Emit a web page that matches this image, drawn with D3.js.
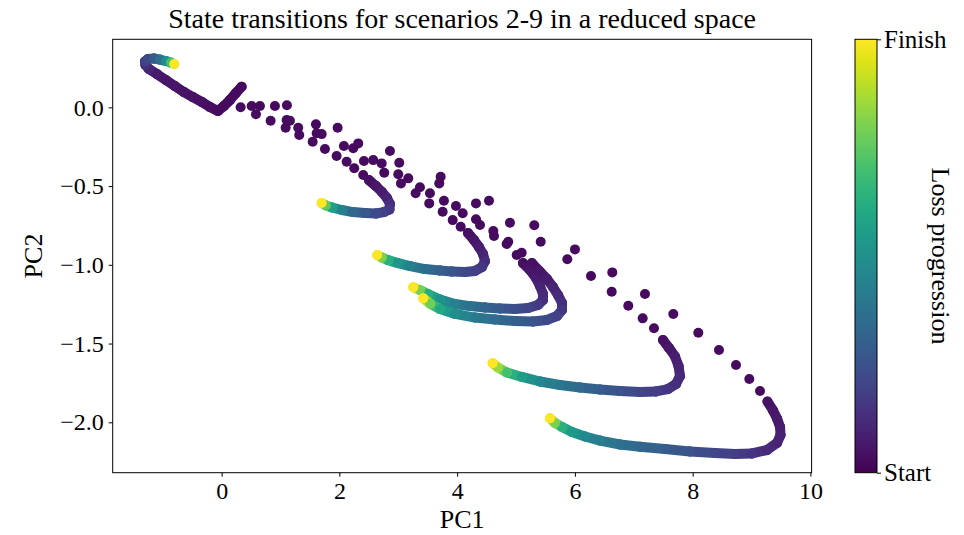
<!DOCTYPE html>
<html>
<head>
<meta charset="utf-8">
<script src="https://cdn.jsdelivr.net/npm/d3@7"></script>
<style>
  body { margin: 0; background: #fff; }
  svg text { font-family: "Liberation Serif", "DejaVu Serif", serif; fill: #000; }
</style>
</head>
<body>
<div id="container"></div>
<script>
/* DATA */
// early, fast steps: [PC1, PC2] -- all drawn with the start colour
const startProgress = 0.03;

// late, slow steps: [PC1, PC2, progress 0..1]
const pathU = [
  [0.34, 0.131, 0.03], [0.243, 0.091, 0.03], [0.141, 0.046, 0.03], [0.039, 0.008, 0.03],
  [-0.063, -0.023, 0.03], [-0.199, 0.002, 0.035], [-0.335, 0.034, 0.04], [-0.488, 0.065, 0.045],
  [-0.64, 0.097, 0.05], [-0.793, 0.135, 0.055], [-0.946, 0.173, 0.06], [-1.099, 0.211, 0.07],
  [-1.235, 0.243, 0.1], [-1.294, 0.269, 0.14], [-1.303, 0.291, 0.18], [-1.252, 0.307, 0.22],
  [-1.15, 0.31, 0.28], [-1.048, 0.303, 0.36], [-0.946, 0.294, 0.48], [-0.861, 0.284, 0.7],
  [-0.805, 0.275, 1.0]
];

const earlyA = [
  [0.323, 0.0], [0.583, -0.044], [0.832, -0.085], [1.087, -0.13], [1.318, -0.176], [1.546, -0.218],
  [1.755, -0.265], [1.953, -0.309], [2.123, -0.345], [2.252, -0.387], [2.405, -0.43]
];
const pathA = [
  [2.502, -0.462, 0.04], [2.621, -0.5, 0.06], [2.723, -0.538, 0.08], [2.808, -0.576, 0.1],
  [2.859, -0.614, 0.13], [2.85, -0.649, 0.16], [2.757, -0.665, 0.19], [2.621, -0.674, 0.22],
  [2.434, -0.671, 0.27], [2.23, -0.665, 0.33], [2.043, -0.652, 0.43], [1.874, -0.636, 0.56],
  [1.772, -0.623, 0.75], [1.699, -0.608, 1.0]
];

const earlyB = [
  [0.51, 0.008], [1.104, -0.081], [1.699, -0.17], [2.077, -0.246], [2.417, -0.341], [2.762, -0.415],
  [3.046, -0.483], [3.295, -0.546], [3.526, -0.61], [3.754, -0.663], [3.924, -0.716], [4.06, -0.758]
];
const pathB = [
  [4.184, -0.798, 0.04], [4.286, -0.843, 0.06], [4.371, -0.887, 0.08], [4.439, -0.931, 0.1],
  [4.473, -0.976, 0.13], [4.422, -1.014, 0.16], [4.303, -1.039, 0.19], [4.133, -1.046, 0.22],
  [3.912, -1.043, 0.26], [3.708, -1.036, 0.3], [3.453, -1.027, 0.36], [3.199, -1.008, 0.43],
  [2.995, -0.989, 0.52], [2.825, -0.97, 0.63], [2.723, -0.954, 0.8], [2.643, -0.938, 1.0]
];

const earlyC = [
  [0.651, 0.008], [1.16, -0.085], [1.614, -0.165], [2.235, -0.26], [2.575, -0.335], [3.0, -0.425],
  [3.368, -0.508], [3.776, -0.593], [4.094, -0.673], [4.32, -0.711], [4.614, -0.785], [4.841, -0.868],
  [5.011, -0.938]
];
const pathC = [
  [5.118, -0.989, 0.04], [5.237, -1.033, 0.06], [5.339, -1.084, 0.08], [5.407, -1.135, 0.1],
  [5.458, -1.185, 0.12], [5.458, -1.223, 0.14], [5.373, -1.255, 0.17], [5.203, -1.274, 0.2],
  [4.982, -1.281, 0.24], [4.727, -1.277, 0.28], [4.473, -1.271, 0.32], [4.218, -1.262, 0.37],
  [3.963, -1.249, 0.43], [3.708, -1.22, 0.51], [3.504, -1.185, 0.62], [3.368, -1.16, 0.8],
  [3.255, -1.143, 1.0]
];

const earlyD = [
  [0.905, 0.008], [1.602, -0.108], [2.32, -0.229], [2.718, -0.356], [3.17, -0.451], [3.538, -0.546],
  [3.98, -0.627], [4.388, -0.747], [4.626, -0.817], [4.868, -0.853], [5.096, -0.923]
];
const pathD = [
  [5.271, -0.989, 0.04], [5.407, -1.043, 0.06], [5.526, -1.09, 0.08], [5.628, -1.141, 0.1],
  [5.713, -1.192, 0.12], [5.781, -1.243, 0.14], [5.781, -1.287, 0.16], [5.696, -1.325, 0.19],
  [5.526, -1.35, 0.22], [5.288, -1.36, 0.26], [4.982, -1.357, 0.3], [4.642, -1.347, 0.35],
  [4.303, -1.335, 0.41], [3.963, -1.312, 0.49], [3.708, -1.281, 0.6], [3.538, -1.246, 0.78],
  [3.425, -1.213, 1.0]
];

const earlyE = [
  [1.109, 0.013], [1.97, -0.13], [3.017, -0.352], [3.696, -0.483], [4.32, -0.61], [4.897, -0.733],
  [5.419, -0.853], [5.871, -0.965], [6.273, -1.071], [6.625, -1.171], [6.907, -1.26], [7.151, -1.34],
  [7.343, -1.403]
];
const pathE = [
  [7.496, -1.477, 0.04], [7.598, -1.528, 0.06], [7.7, -1.582, 0.08], [7.76, -1.643, 0.1],
  [7.785, -1.706, 0.11], [7.717, -1.757, 0.13], [7.581, -1.789, 0.15], [7.377, -1.804, 0.18],
  [7.106, -1.808, 0.21], [6.766, -1.801, 0.25], [6.426, -1.792, 0.29], [6.086, -1.779, 0.34],
  [5.747, -1.763, 0.39], [5.407, -1.741, 0.46], [5.101, -1.712, 0.56], [4.846, -1.684, 0.7],
  [4.693, -1.652, 0.85], [4.603, -1.625, 1.0]
];

const earlyF = [
  [1.301, -0.13], [2.859, -0.277], [3.72, -0.441], [4.541, -0.593], [5.31, -0.749], [6.001, -0.902],
  [6.635, -1.048], [7.19, -1.185], [7.671, -1.312], [8.096, -1.431], [8.447, -1.541], [8.736, -1.636],
  [8.962, -1.725], [9.144, -1.801]
];
const pathF = [
  [9.271, -1.868, 0.05], [9.365, -1.925, 0.06], [9.433, -1.976, 0.07], [9.484, -2.03, 0.08],
  [9.492, -2.081, 0.09], [9.433, -2.131, 0.1], [9.263, -2.176, 0.12], [9.008, -2.198, 0.15],
  [8.719, -2.201, 0.18], [8.38, -2.195, 0.21], [7.955, -2.185, 0.25], [7.53, -2.17, 0.29],
  [7.106, -2.155, 0.33], [6.766, -2.141, 0.37], [6.426, -2.116, 0.42], [6.171, -2.09, 0.47],
  [5.95, -2.062, 0.54], [5.781, -2.03, 0.64], [5.662, -2.004, 0.8], [5.577, -1.975, 1.0]
];

const trajectories = [
  { early: [], late: pathU },
  { early: earlyA, late: pathA },
  { early: earlyB, late: pathB },
  { early: earlyC, late: pathC },
  { early: earlyD, late: pathD },
  { early: earlyE, late: pathE },
  { early: earlyF, late: pathF }
];

const xTicks = [0, 2, 4, 6, 8, 10];
const yTicks = [0, -0.5, -1, -1.5, -2];
const xLimits = [-1.85, 10.02];
const yLimits = [-2.32, 0.432];
const cbarLabels = ["Start", "Finish"];

/* LAYOUT */
const width = 964, height = 535;
const margin = { top: 39.3, right: 152.4, bottom: 62.3, left: 112.7 };
const plotW = width - margin.left - margin.right;
const plotH = height - margin.top - margin.bottom;
const r = 5;

const xScale = d3.scaleLinear().domain(xLimits).range([margin.left, margin.left + plotW]);
const yScale = d3.scaleLinear().domain(yLimits).range([margin.top + plotH, margin.top]);
const color = d3.interpolateViridis;

const svg = d3.select("#container")
  .append("svg")
  .attr("width", width)
  .attr("height", height);

svg.append("clipPath").attr("id", "clip")
  .append("rect")
  .attr("x", margin.left).attr("y", margin.top)
  .attr("width", plotW).attr("height", plotH);

const plot = svg.append("g").attr("clip-path", "url(#clip)");

// trajectories
trajectories.forEach(tr => {
  const g = plot.append("g");
  g.selectAll("circle.early")
    .data(tr.early)
    .join("circle")
    .attr("class", "early")
    .attr("cx", d => xScale(d[0]))
    .attr("cy", d => yScale(d[1]))
    .attr("r", r)
    .attr("fill", color(startProgress));

  g.selectAll("line.seg")
    .data(d3.pairs(tr.late))
    .join("line")
    .attr("class", "seg")
    .attr("x1", d => xScale(d[0][0]))
    .attr("y1", d => yScale(d[0][1]))
    .attr("x2", d => xScale(d[1][0]))
    .attr("y2", d => yScale(d[1][1]))
    .attr("stroke", d => color((d[0][2] + d[1][2]) / 2))
    .attr("stroke-width", r * 2)
    .attr("stroke-linecap", "round");

  g.selectAll("circle.late")
    .data(tr.late)
    .join("circle")
    .attr("class", "late")
    .attr("cx", d => xScale(d[0]))
    .attr("cy", d => yScale(d[1]))
    .attr("r", r)
    .attr("fill", d => color(d[2]));
});

// axes
const xAxis = d3.axisBottom(xScale).tickValues(xTicks).tickSize(4).tickPadding(5).tickFormat(d3.format("d"));
const xg = svg.append("g")
  .attr("transform", `translate(0, ${margin.top + plotH})`)
  .call(xAxis);

const yAxis = d3.axisLeft(yScale).tickValues(yTicks).tickSize(4).tickPadding(5).tickFormat(d3.format(".1f"));
const yg = svg.append("g")
  .attr("transform", `translate(${margin.left}, 0)`)
  .call(yAxis);

[xg, yg].forEach(g => {
  g.select(".domain").remove();
  g.selectAll(".tick line").attr("stroke", "#000").attr("stroke-width", 1);
  g.selectAll(".tick text").style("font-size", "24px").attr("fill", "#000");
});

// frame
svg.append("rect")
  .attr("x", margin.left).attr("y", margin.top)
  .attr("width", plotW).attr("height", plotH)
  .attr("fill", "none").attr("stroke", "#000").attr("stroke-width", 1);

// titles
svg.append("text")
  .attr("x", margin.left + plotW / 2).attr("y", 28)
  .attr("text-anchor", "middle")
  .style("font-size", "28px")
  .text("State transitions for scenarios 2-9 in a reduced space");

svg.append("text")
  .attr("x", margin.left + plotW / 2).attr("y", 528)
  .attr("text-anchor", "middle")
  .style("font-size", "26px")
  .text("PC1");

svg.append("text")
  .attr("transform", `translate(42, ${margin.top + plotH / 2}) rotate(-90)`)
  .attr("text-anchor", "middle")
  .style("font-size", "26px")
  .text("PC2");

// colorbar
const cbX = 855, cbW = 22;
const grad = svg.append("defs").append("linearGradient")
  .attr("id", "viridis").attr("x1", 0).attr("y1", 1).attr("x2", 0).attr("y2", 0);
grad.selectAll("stop")
  .data(d3.range(0, 1.001, 0.05))
  .join("stop")
  .attr("offset", d => d)
  .attr("stop-color", d => color(d));

svg.append("rect")
  .attr("x", cbX).attr("y", margin.top)
  .attr("width", cbW).attr("height", plotH)
  .attr("fill", "url(#viridis)")
  .attr("stroke", "#000").attr("stroke-width", 1);

const cbScale = d3.scaleLinear().domain([0, 1]).range([margin.top + plotH, margin.top]);
const cg = svg.append("g")
  .attr("transform", `translate(${cbX + cbW}, 0)`)
  .call(d3.axisRight(cbScale).tickValues([0, 1]).tickSize(4).tickPadding(3).tickFormat((d, i) => cbarLabels[i]));
cg.select(".domain").remove();
cg.selectAll(".tick line").attr("stroke", "#000");
cg.selectAll(".tick text").style("font-size", "25px").attr("fill", "#000");

svg.append("text")
  .attr("transform", `translate(932, ${margin.top + plotH / 2}) rotate(90)`)
  .attr("text-anchor", "middle")
  .style("font-size", "26px")
  .text("Loss progression");
</script>
</body>
</html>
